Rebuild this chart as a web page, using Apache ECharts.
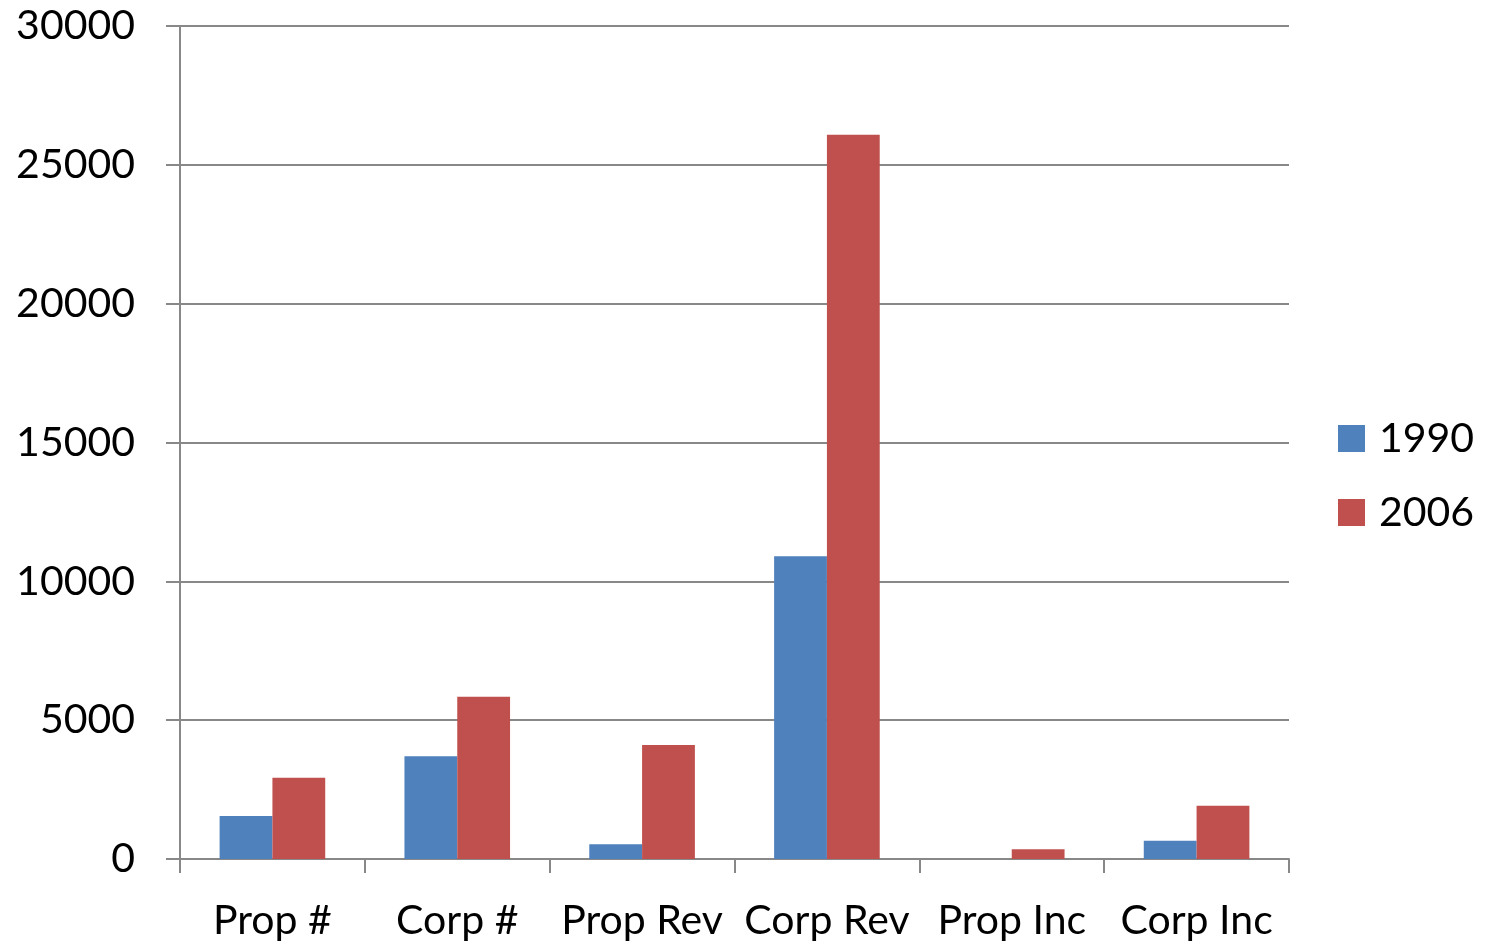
<!DOCTYPE html>
<html>
<head>
<meta charset="utf-8">
<script src="https://cdn.jsdelivr.net/npm/echarts@6/dist/echarts.min.js"></script>
<style>
html,body{margin:0;padding:0;background:#fff;}
#chart{width:1493px;height:946px;}
</style>
</head>
<body>
<div id="chart"></div>
<script>
const categories = ['Prop #', 'Corp #', 'Prop Rev', 'Corp Rev', 'Prop Inc', 'Corp Inc'];
const series1990 = [1550, 3700, 530, 10900, 0, 660];
const series2006 = [2930, 5840, 4110, 26080, 350, 1920];
const seriesNames = ['1990', '2006'];
const yTicks = [0, 5000, 10000, 15000, 20000, 25000, 30000];

const FONT = 'Lato';
const GRID = '#888888';

const chart = echarts.init(document.getElementById('chart'), null, {renderer: 'canvas'});
chart.setOption({
  animation: false,
  backgroundColor: '#ffffff',
  textStyle: {fontFamily: FONT},
  grid: {left: 180, right: 204, top: 26, bottom: 87, containLabel: false},
  legend: {
    orient: 'vertical',
    left: 1338,
    top: 418,
    padding: 0,
    itemWidth: 27,
    itemHeight: 27,
    itemGap: 33,
    icon: 'rect',
    textStyle: {fontFamily: FONT, fontSize: 41, color: '#000', lineHeight: 41, padding: [0, 0, 0, 9]},
    data: seriesNames
  },
  xAxis: {
    type: 'category',
    data: categories,
    boundaryGap: true,
    axisLine: {show: true, lineStyle: {color: GRID, width: 2}},
    axisTick: {show: true, length: 14, interval: 0, alignWithLabel: false, lineStyle: {color: GRID, width: 2}},
    axisLabel: {interval: 0, fontFamily: FONT, fontSize: 41, color: '#000', margin: 41},
    splitLine: {show: false}
  },
  yAxis: {
    type: 'value',
    min: yTicks[0],
    max: yTicks[yTicks.length - 1],
    interval: yTicks[1] - yTicks[0],
    axisLine: {show: true, lineStyle: {color: GRID, width: 2}},
    axisTick: {show: true, length: 14, lineStyle: {color: GRID, width: 2}},
    axisLabel: {fontFamily: FONT, fontSize: 41, color: '#000', margin: 45, formatter: v => String(v)},
    splitLine: {show: true, lineStyle: {color: GRID, width: 2}}
  },
  series: [
    {
      name: seriesNames[0], type: 'bar', data: series1990,
      barGap: '0%', barCategoryGap: '42.857%',
      itemStyle: {color: '#4F81BD'}
    },
    {
      name: seriesNames[1], type: 'bar', data: series2006,
      barGap: '0%', barCategoryGap: '42.857%',
      itemStyle: {color: '#C0504D'}
    }
  ]
});
</script>
</body>
</html>
